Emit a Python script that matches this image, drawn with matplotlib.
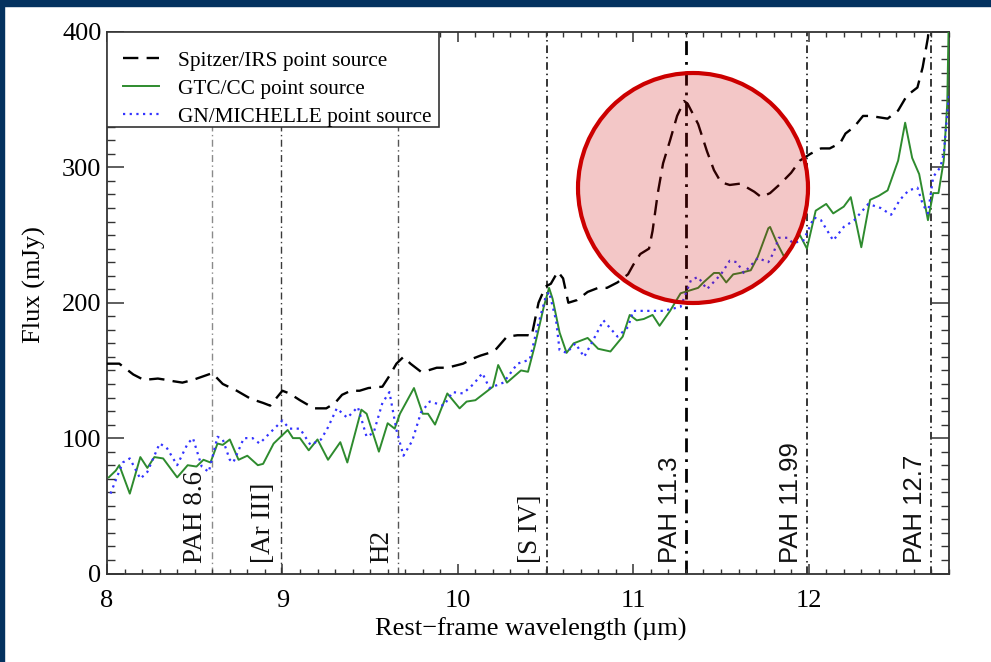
import matplotlib
matplotlib.use("Agg")
import matplotlib.pyplot as plt
from matplotlib.patches import Ellipse, Rectangle
from matplotlib.ticker import MultipleLocator

# ---- spectra (rest-frame wavelength in micron, flux in mJy) ----
irs_wave = [8.00, 8.07, 8.15, 8.21, 8.29, 8.34, 8.38, 8.43, 8.49, 8.60, 8.66, 8.74,
            8.82, 8.89, 8.93, 9.00, 9.04, 9.10, 9.18, 9.25, 9.30, 9.34, 9.39, 9.44,
            9.49, 9.57, 9.61, 9.65, 9.69, 9.73, 9.79, 9.83, 9.88, 9.94, 10.03, 10.09,
            10.13, 10.18, 10.22, 10.28, 10.34, 10.40, 10.42, 10.46, 10.50, 10.53, 10.57,
            10.60, 10.63, 10.68, 10.74, 10.80, 10.85, 10.91, 10.97, 11.00, 11.04, 11.09,
            11.11, 11.14, 11.17, 11.21, 11.25, 11.29, 11.31, 11.37, 11.42, 11.46, 11.50,
            11.55, 11.61, 11.65, 11.69, 11.73, 11.78, 11.84, 11.90, 11.95, 12.01, 12.07,
            12.12, 12.18, 12.21, 12.26, 12.31, 12.35, 12.40, 12.45, 12.51, 12.56, 12.62,
            12.65, 12.68, 12.69]
irs_flux = [155, 155, 147, 143, 144, 143, 142, 141, 143, 148, 140, 135,
            129, 126, 124, 135, 133, 128, 122, 122, 126, 132, 135, 135,
            137, 138, 146, 155, 160, 155, 149, 150, 152, 152, 155, 159,
            161, 163, 166, 175, 176, 176, 175, 200, 212, 214, 223,
            218, 200, 202, 208, 211, 211, 215, 221, 228, 236, 240,
            253, 281, 303, 320, 338, 349, 347, 332, 312, 298, 289,
            287, 288, 285, 282, 278, 281, 288, 296, 305, 310, 314,
            314, 318, 325, 330, 338, 338, 337, 336, 342, 353, 359,
            374, 396, 410]

gtc_wave = [8.01, 8.05, 8.07, 8.13, 8.19, 8.23, 8.27, 8.32, 8.40, 8.46, 8.51, 8.55,
            8.59, 8.63, 8.66, 8.70, 8.75, 8.80, 8.86, 8.89, 8.95, 9.03, 9.06, 9.10,
            9.15, 9.20, 9.26, 9.33, 9.37, 9.45, 9.48, 9.55, 9.60, 9.64, 9.67, 9.75,
            9.80, 9.83, 9.87, 9.94, 10.01, 10.05, 10.10, 10.17, 10.20, 10.23, 10.28,
            10.36, 10.40, 10.44, 10.49, 10.52, 10.54, 10.58, 10.62, 10.66, 10.74, 10.80,
            10.87, 10.94, 10.98, 11.02, 11.06, 11.11, 11.15, 11.21, 11.27, 11.37, 11.40,
            11.46, 11.49, 11.53, 11.57, 11.61, 11.67, 11.71, 11.77, 11.78, 11.82, 11.86,
            11.92, 11.95, 11.99, 12.04, 12.10, 12.14, 12.20, 12.24, 12.30, 12.35, 12.40,
            12.45, 12.51, 12.55, 12.59, 12.63, 12.68, 12.71, 12.74, 12.77, 12.79, 12.80]
gtc_flux = [71, 76, 80, 59, 86, 78, 86, 85, 71, 80, 79, 84,
            82, 96, 95, 99, 84, 87, 80, 81, 96, 106, 100, 100,
            91, 99, 84, 97, 82, 121, 118, 90, 111, 107, 118, 137,
            118, 118, 110, 133, 122, 127, 128, 135, 138, 154, 141,
            150, 149, 169, 197, 211, 203, 178, 163, 170, 174, 166,
            164, 175, 191, 187, 188, 191, 183, 194, 207, 211, 215,
            222, 222, 215, 221, 222, 224, 234, 255, 256, 244, 234,
            245, 250, 240, 268, 273, 266, 271, 278, 241, 276, 279,
            283, 305, 333, 307, 295, 261, 281, 281, 305, 347, 420]

mich_wave = [8.02, 8.05, 8.09, 8.13, 8.19, 8.23, 8.30, 8.34, 8.40, 8.46, 8.49, 8.54,
             8.58, 8.63, 8.66, 8.70, 8.72, 8.78, 8.83, 8.87, 8.93, 9.00, 9.04, 9.10,
             9.16, 9.22, 9.26, 9.31, 9.37, 9.43, 9.48, 9.52, 9.57, 9.61, 9.65, 9.69,
             9.74, 9.79, 9.84, 9.92, 9.97, 10.03, 10.09, 10.14, 10.18, 10.26, 10.34,
             10.41, 10.45, 10.50, 10.52, 10.56, 10.58, 10.62, 10.67, 10.72, 10.77, 10.83,
             10.91, 10.97, 11.00, 11.04, 11.17, 11.27, 11.33, 11.37, 11.42, 11.50, 11.55,
             11.59, 11.63, 11.71, 11.77, 11.80, 11.83, 11.88, 11.91, 11.97, 12.03, 12.07,
             12.14, 12.20, 12.26, 12.34, 12.41, 12.47, 12.52, 12.57, 12.62, 12.65, 12.68,
             12.71, 12.75, 12.77, 12.80]
mich_flux = [59, 69, 82, 85, 70, 75, 96, 93, 80, 96, 100, 79,
             75, 101, 99, 84, 82, 100, 100, 96, 104, 113, 107, 107,
             95, 99, 108, 122, 115, 123, 101, 104, 126, 134, 106, 87,
             98, 119, 127, 124, 134, 133, 140, 148, 137, 141, 155,
             158, 180, 204, 208, 187, 165, 163, 170, 160, 172, 187,
             175, 182, 194, 194, 194, 197, 217, 219, 210, 221, 231,
             230, 222, 233, 230, 237, 248, 248, 244, 246, 263, 261,
             246, 256, 261, 273, 270, 265, 276, 283, 285, 273, 266,
             293, 300, 310, 354]

# ---- spectral features ----
line_pos = [8.60, 8.99, 9.66, 10.51, 11.30, 11.99, 12.70]
line_names = ["PAH 8.6", "[Ar III]", "H2", "[S IV]", "PAH 11.3", "PAH 11.99", "PAH 12.7"]
line_colors = ["#8a8a8a", "#3a3a3a", "#555555", "black", "black", "black", "black"]
line_widths = [1.0, 1.0, 1.0, 1.1, 2.0, 1.1, 1.1]
line_fonts = ["Liberation Serif"] * 4 + ["Liberation Sans"] * 3
line_sizes = [19.5] * 4 + [18.5] * 3

x_ticks = [8, 9, 10, 11, 12]
y_ticks = [0, 100, 200, 300, 400]

plt.rcParams["font.family"] = ["Liberation Serif", "DejaVu Serif"]

fig = plt.figure(figsize=(9.91, 6.62), dpi=100)
ax = fig.add_axes([107 / 991, 1 - 573.5 / 662, (949 - 107) / 991, (573.5 - 32) / 662])

for x, name, c, lw, fam, fs in zip(line_pos, line_names, line_colors, line_widths,
                                   line_fonts, line_sizes):
    ax.axvline(x, color=c, lw=lw, linestyle=(0, (5, 2.5, 1, 2.5)), zorder=1)
    ax.annotate(name, xy=(x, 8), xytext=(-3, 0), textcoords="offset points",
                rotation=90, ha="right", va="bottom", fontsize=fs,
                family=[fam, "DejaVu Sans"], color="#111111")

ax.plot(irs_wave, irs_flux, color="black", lw=1.7, linestyle=(0, (6.5, 3.5)),
        label="Spitzer/IRS point source", zorder=3)
ax.plot(gtc_wave, gtc_flux, color="#2e8b2e", lw=1.4,
        label="GTC/CC point source", zorder=3)
ax.plot(mich_wave, mich_flux, color="#3333ff", lw=1.6, linestyle=(0, (1, 2)),
        label="GN/MICHELLE point source", zorder=3)

ax.set_xlim(8, 12.8)
ax.set_ylim(0, 400)
ax.set_xticks(x_ticks)
ax.set_yticks(y_ticks)
ax.xaxis.set_minor_locator(MultipleLocator(0.1))
ax.yaxis.set_minor_locator(MultipleLocator(10))
ax.tick_params(axis="both", which="both", direction="in", top=True, right=True,
               colors="#333333", labelcolor="black", labelsize=19)
ax.tick_params(axis="x", which="major", length=7, width=1.1, pad=12)
ax.tick_params(axis="x", which="minor", length=3.5, width=1.0)
ax.tick_params(axis="y", which="major", length=12, width=1.1, pad=4)
ax.tick_params(axis="y", which="minor", length=5.5, width=1.0)
for s in ax.spines.values():
    s.set_linewidth(1.3)
    s.set_color("#333333")

ax.set_xlabel("Rest\u2212frame wavelength (\u00b5m)", fontsize=19)
ax.set_ylabel("Flux (mJy)", fontsize=19)
ax.xaxis.set_label_coords(0.5036, -0.082)
ax.yaxis.set_label_coords(-0.072, 0.533)

# legend box: white panel in the upper-left corner, entries placed inside it
box_w = (439 - 107) / 842
box_h = (127 - 32) / 541.5
ax.add_patch(Rectangle((0, 1 - box_h), box_w, box_h, transform=ax.transAxes,
                       facecolor="white", edgecolor="#333333", linewidth=1.2,
                       zorder=4))
leg = ax.legend(loc="upper left", bbox_to_anchor=(0.019, 1 - 19 / 541.5),
                borderaxespad=0, borderpad=0, fontsize=15.3, frameon=False,
                handlelength=1.7, handletextpad=0.9, labelspacing=0.38)
leg.set_zorder(5)

# highlight around the 11.3 micron feature
fig.patches.append(Ellipse((693 / 991, 1 - 188 / 662), 230 / 991, 230 / 662,
                           transform=fig.transFigure, facecolor=(0.8, 0.0, 0.0, 0.22),
                           edgecolor="#cc0000", linewidth=3.0, zorder=10))

# page border
fig.patches.append(Rectangle((0, 1 - 6 / 662), 1, 6 / 662, transform=fig.transFigure,
                             color="#04325f", zorder=11))
fig.patches.append(Rectangle((0, 0), 4 / 991, 1, transform=fig.transFigure,
                             color="#04325f", zorder=11))

fig.savefig("out.png", dpi=100)
